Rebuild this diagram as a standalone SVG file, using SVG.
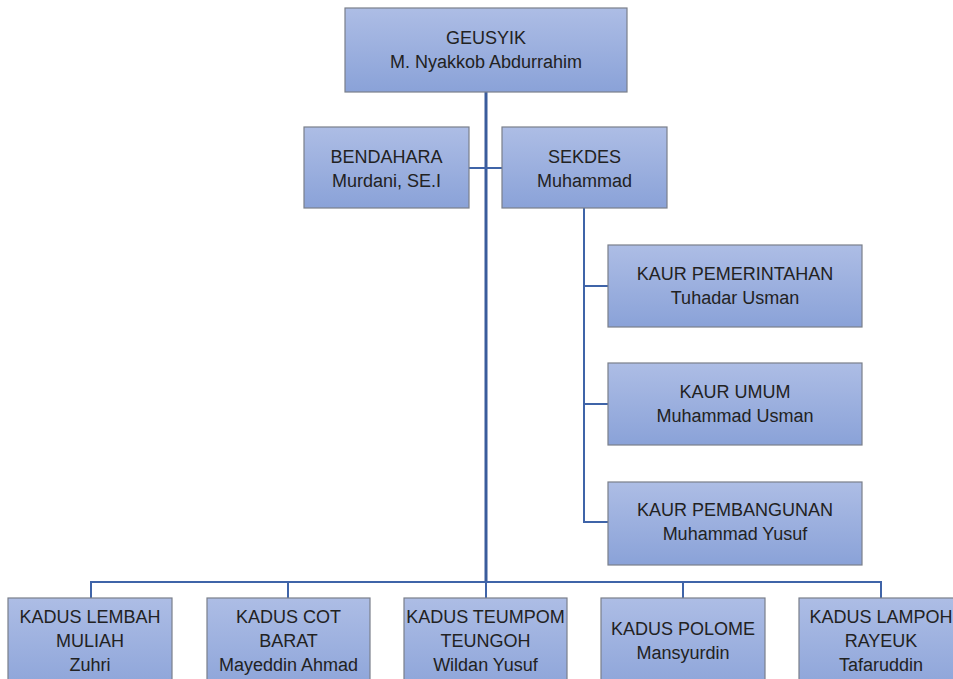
<svg xmlns="http://www.w3.org/2000/svg" width="953" height="679" viewBox="0 0 953 679">
<defs>
<linearGradient id="g" x1="0" y1="0" x2="0" y2="1">
<stop offset="0" stop-color="#adbde5"/>
<stop offset="1" stop-color="#8aa2d8"/>
</linearGradient>
<style>
.box{fill:url(#g);stroke:#7a7f8a;stroke-width:1.2}
.t{font-family:"Liberation Sans",Arial,sans-serif;font-size:18px;fill:#222222;text-anchor:middle}
.c{fill:none;stroke:#3f64a8;stroke-width:2}
.m{fill:none;stroke:#3a5c9c;stroke-width:3}
</style>
</defs>
<rect width="953" height="679" fill="#ffffff"/>
<g id="connectors">
<line class="m" x1="486" y1="92" x2="486" y2="583"/>
<line class="c" x1="469" y1="168" x2="502" y2="168"/>
<polyline class="c" points="584,208 584,522 608,522"/>
<line class="c" x1="584" y1="286" x2="608" y2="286"/>
<line class="c" x1="584" y1="404" x2="608" y2="404"/>
<polyline class="c" points="91,598 91,582 881,582 881,598"/>
<line class="c" x1="288" y1="582" x2="288" y2="598"/>
<line class="c" x1="486" y1="582" x2="486" y2="598"/>
<line class="c" x1="683" y1="582" x2="683" y2="598"/>
</g>
<g id="geusyik">
<rect class="box" x="345" y="8" width="282" height="84"/>
<text class="t" x="486" y="44">GEUSYIK</text>
<text class="t" x="486" y="68">M. Nyakkob Abdurrahim</text>
</g>
<g id="bendahara">
<rect class="box" x="304" y="127" width="165" height="81"/>
<text class="t" x="386.5" y="163">BENDAHARA</text>
<text class="t" x="386.5" y="187">Murdani, SE.I</text>
</g>
<g id="sekdes">
<rect class="box" x="502" y="127" width="165" height="81"/>
<text class="t" x="584.5" y="163">SEKDES</text>
<text class="t" x="584.5" y="187">Muhammad</text>
</g>
<g id="kaur-pemerintahan">
<rect class="box" x="608" y="245" width="254" height="82"/>
<text class="t" x="735" y="280">KAUR PEMERINTAHAN</text>
<text class="t" x="735" y="304">Tuhadar Usman</text>
</g>
<g id="kaur-umum">
<rect class="box" x="608" y="363" width="254" height="82"/>
<text class="t" x="735" y="398">KAUR UMUM</text>
<text class="t" x="735" y="422">Muhammad Usman</text>
</g>
<g id="kaur-pembangunan">
<rect class="box" x="608" y="482" width="254" height="83"/>
<text class="t" x="735" y="516">KAUR PEMBANGUNAN</text>
<text class="t" x="735" y="540">Muhammad Yusuf</text>
</g>
<g id="kadus-lembah-muliah">
<rect class="box" x="8" y="598" width="164" height="100"/>
<text class="t" x="90" y="623">KADUS LEMBAH</text>
<text class="t" x="90" y="647">MULIAH</text>
<text class="t" x="90" y="671">Zuhri</text>
</g>
<g id="kadus-cot-barat">
<rect class="box" x="207" y="598" width="163" height="100"/>
<text class="t" x="288.5" y="623">KADUS COT</text>
<text class="t" x="288.5" y="647">BARAT</text>
<text class="t" x="288.5" y="671">Mayeddin Ahmad</text>
</g>
<g id="kadus-teumpom-teungoh">
<rect class="box" x="404" y="598" width="163" height="100"/>
<text class="t" x="485.5" y="623">KADUS TEUMPOM</text>
<text class="t" x="485.5" y="647">TEUNGOH</text>
<text class="t" x="485.5" y="671">Wildan Yusuf</text>
</g>
<g id="kadus-polome">
<rect class="box" x="601" y="598" width="164" height="100"/>
<text class="t" x="683" y="635">KADUS POLOME</text>
<text class="t" x="683" y="659">Mansyurdin</text>
</g>
<g id="kadus-lampoh-rayeuk">
<rect class="box" x="799" y="598" width="164" height="100"/>
<text class="t" x="881" y="623">KADUS LAMPOH</text>
<text class="t" x="881" y="647">RAYEUK</text>
<text class="t" x="881" y="671">Tafaruddin</text>
</g>
</svg>
